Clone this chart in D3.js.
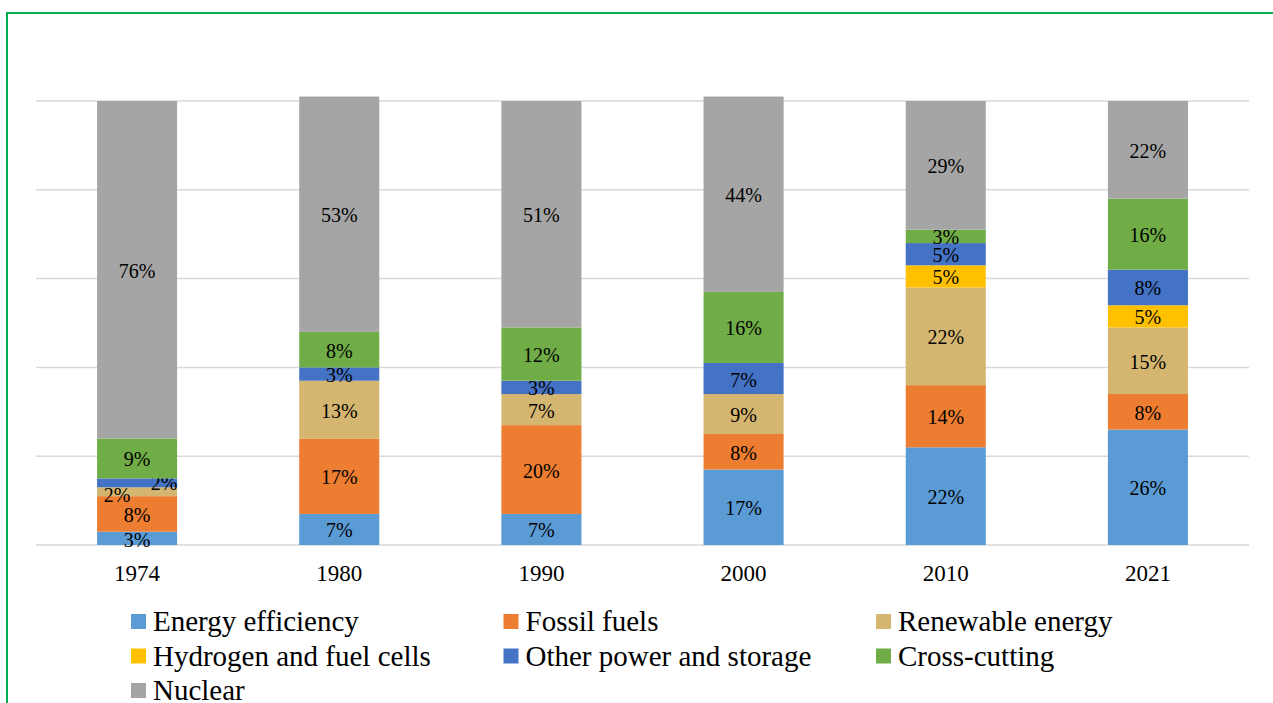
<!DOCTYPE html>
<html>
<head>
<meta charset="utf-8">
<script src="https://cdn.jsdelivr.net/npm/d3@7"></script>
<style>
  body { margin: 0; background: #fff; }
  svg { display: block; font-family: "Liberation Serif", "Times New Roman", serif; }
</style>
</head>
<body>
<div id="chart"></div>
<script>
// data (percent shares by year)
var years = ["1974", "1980", "1990", "2000", "2010", "2021"];
var categories = ["Energy efficiency", "Fossil fuels", "Renewable energy",
                  "Hydrogen and fuel cells", "Other power and storage", "Cross-cutting", "Nuclear"];
var energyEfficiency = [3, 7, 7, 17, 22, 26];
var fossilFuels      = [8, 17, 20, 8, 14, 8];
var renewableEnergy  = [2, 13, 7, 9, 22, 15];
var hydrogen         = [0, 0, 0, 0, 5, 5];
var otherPower       = [2, 3, 3, 7, 5, 8];
var crossCutting     = [9, 8, 12, 16, 3, 16];
var nuclear          = [76, 53, 51, 44, 29, 22];
var yTicks = [0, 20, 40, 60, 80, 100];

var colors = ["#5B9BD5", "#ED7D31", "#D5B670", "#FFC000", "#4472C4", "#70AD47", "#A5A5A5"];

var series = [energyEfficiency, fossilFuels, renewableEnergy, hydrogen, otherPower, crossCutting, nuclear];
var rows = years.map(function (yr, i) {
    var r = { year: yr };
    categories.forEach(function (c, j) { r[c] = series[j][i]; });
    return r;
});

var W = 1273, H = 703;
var svg = d3.select("#chart").append("svg")
    .attr("width", W).attr("height", H);

// outer frame (green, runs off the right / bottom)
svg.append("rect")
    .attr("x", 7).attr("y", 13)
    .attr("width", W + 20).attr("height", H + 20)
    .attr("fill", "none")
    .attr("stroke", "#00B050")
    .attr("stroke-width", 2);

var x = d3.scaleBand()
    .domain(years)
    .range([36, 1249])
    .paddingInner(0.604)
    .paddingOuter(0.302);

var y = d3.scaleLinear()
    .domain([0, 100])
    .range([545, 101]);

// gridlines
svg.append("g").selectAll("line")
    .data(yTicks)
    .enter().append("line")
    .attr("x1", 36).attr("x2", 1249)
    .attr("y1", function (d) { return y(d); })
    .attr("y2", function (d) { return y(d); })
    .attr("stroke", "#D9D9D9")
    .attr("stroke-width", 1.5);

var color = d3.scaleOrdinal().domain(categories).range(colors);
var stacked = d3.stack().keys(categories)(rows);

var layers = svg.append("g").selectAll("g")
    .data(stacked)
    .enter().append("g")
    .attr("fill", function (d) { return color(d.key); });

layers.selectAll("rect")
    .data(function (d) { return d; })
    .enter().append("rect")
    .attr("x", function (d) { return x(d.data.year); })
    .attr("width", x.bandwidth())
    .attr("y", function (d) { return y(d[1]); })
    .attr("height", function (d) { return y(d[0]) - y(d[1]); });

// small nudges where Excel pushed overlapping labels apart
var nudge = {
    "1974|Renewable energy": [-20, 2],
    "1974|Other power and storage": [27, -1],
    "1974|Energy efficiency": [0, 1]
};

layers.each(function (layer) {
    d3.select(this).selectAll("text")
        .data(layer.filter(function (d) { return d[1] - d[0] > 0; }))
        .enter().append("text")
        .attr("x", function (d) {
            var n = nudge[d.data.year + "|" + layer.key];
            return x(d.data.year) + x.bandwidth() / 2 + (n ? n[0] : 0);
        })
        .attr("y", function (d) {
            var n = nudge[d.data.year + "|" + layer.key];
            return (y(d[0]) + y(d[1])) / 2 + 1 + (n ? n[1] : 0);
        })
        .attr("dy", "0.35em")
        .attr("text-anchor", "middle")
        .attr("fill", "#000")
        .style("font-size", "20px")
        .text(function (d) { return (d[1] - d[0]) + "%"; });
});

// x axis labels
svg.append("g").selectAll("text")
    .data(years)
    .enter().append("text")
    .attr("x", function (d) { return x(d) + x.bandwidth() / 2; })
    .attr("y", 581)
    .attr("text-anchor", "middle")
    .attr("fill", "#000")
    .style("font-size", "23px")
    .text(function (d) { return d; });

// legend, 3 columns
var legend = svg.append("g").selectAll("g")
    .data(categories)
    .enter().append("g")
    .attr("transform", function (d, i) {
        return "translate(" + (131 + (i % 3) * 372.5) + "," + (614 + Math.floor(i / 3) * 34.5) + ")";
    });

legend.append("rect")
    .attr("width", 15).attr("height", 15)
    .attr("fill", function (d) { return color(d); });

legend.append("text")
    .attr("x", 22)
    .attr("y", 7)
    .attr("dy", "0.35em")
    .attr("fill", "#000")
    .style("font-size", "29px")
    .text(function (d) { return d; });
</script>
</body>
</html>
